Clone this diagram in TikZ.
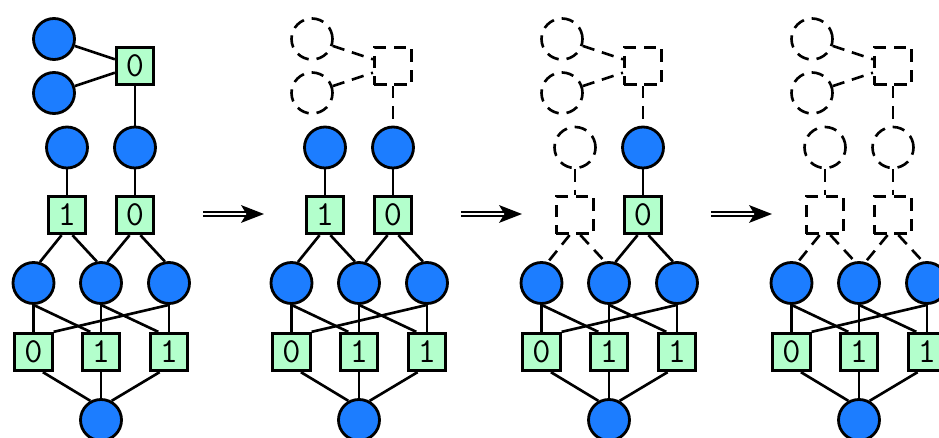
\documentclass[tikz,border=0pt]{standalone}
\usepackage{fontspec}
\usepackage{tikz}
\usetikzlibrary{arrows.meta,positioning}
\definecolor{varblue}{RGB}{28, 125, 255}
\definecolor{facgreen}{RGB}{179, 255, 204}

\tikzset{
  vtx-on/.style={circle, draw, fill=varblue, line width=1.6pt, minimum size=0.82cm, inner sep=0pt},
  vtx-off/.style={circle, draw, line width=1.5pt, dash pattern=on 7pt off 4.5pt, minimum size=0.82cm, inner sep=0pt},
  fac-on/.style={rectangle, draw, fill=facgreen, line width=1.6pt, minimum size=0.75cm, inner sep=0pt,
    font={\ttfamily\fontsize{20pt}{20pt}\selectfont}},
  fac-off/.style={rectangle, draw, line width=1.5pt, dash pattern=on 7pt off 4.5pt, minimum size=0.75cm, inner sep=0pt},
  link-on/.style={line width=1.5pt},
  link-off/.style={line width=1.5pt, dash pattern=on 7pt off 4.5pt},
  nextarrow/.style={double, line width=1.3pt, double distance=1pt, -{Stealth[length=13pt,width=10pt,inset=3pt]}}
}

\begin{document}
\begin{tikzpicture}[x=0.02cm, y=-0.02cm]
    \useasboundingbox (0,0) rectangle (939,438);
    \clip (0,0) rectangle (939,438);

    % One panel per step: shift / name / top, left, right state / labels
    \foreach \dx/\p/\tp/\lt/\rt/\tl/\ll/\rl in {0/a/on/on/on/0/1/0, 258/b/off/on/on//1/0,
                                                 508/c/off/off/on///0, 758/d/off/off/off///}{
    \begin{scope}[shift={(\dx,0)}]
      % Top factor and its two variables
      \node[vtx-\tp] (\p t1) at (54,39) {};
      \node[vtx-\tp] (\p t2) at (54,93) {};
      \node[fac-\tp] (\p ts) at (135,66) {\tl};

      % Second level
      \node[vtx-\lt] (\p u1) at (67,147.5) {};
      \node[vtx-\rt] (\p u2) at (135,147.5) {};
      \node[fac-\lt] (\p f1) at (67,215) {\ll};
      \node[fac-\rt] (\p f2) at (135,215) {\rl};

      % Lower levels
      \node[vtx-on] (\p v1) at (33.5,283) {};
      \node[vtx-on] (\p v2) at (101,283) {};
      \node[vtx-on] (\p v3) at (169,283) {};
      \node[fac-on] (\p g1) at (33.5,352) {0};
      \node[fac-on] (\p g2) at (101,352) {1};
      \node[fac-on] (\p g3) at (169,352) {1};
      \node[vtx-on] (\p b) at (101,420) {};

      % Edges
      \draw[link-\tp] (\p t1) -- (\p ts);
      \draw[link-\tp] (\p t2) -- (\p ts);
      \draw[link-\tp] (\p ts.south) -- (\p u2.north);
      \draw[link-\lt] (\p u1.south) -- (\p f1.north);
      \draw[link-\lt] (\p f1.255) -- (\p v1.73);
      \draw[link-\lt] (\p f1.285) -- (\p v2.101);
      \draw[link-\rt] (\p u2.south) -- (\p f2.north);
      \draw[link-\rt] (\p f2.255) -- (\p v2.73);
      \draw[link-\rt] (\p f2.285) -- (\p v3.101);

      \draw[link-on] (\p v1.south) -- (\p g1.north);
      \draw[link-on] (\p v2.south) -- (\p g2.north);
      \draw[link-on] (\p v3.south) -- (\p g3.north);
      \draw[link-on] (\p v1.south) -- (\p g2.118);
      \draw[link-on] (\p v2.south) -- (\p g3.118);
      \draw[link-on] (\p v3.south) -- (\p g1.north east);
      \draw[link-on] (\p g1.295) -- (\p b.119);
      \draw[link-on] (\p g2.south) -- (\p b.north);
      \draw[link-on] (\p g3.245) -- (\p b.61);
    \end{scope}
    }

    % Arrows between panels
    \foreach \dx/\i in {0/1, 258/2, 508/3}{
      \coordinate (arr\i s) at (\dx+203,214);
      \coordinate (arr\i e) at (\dx+264,214);
      \draw[nextarrow] (arr\i s) -- (arr\i e);
    }
\end{tikzpicture}
\end{document}
